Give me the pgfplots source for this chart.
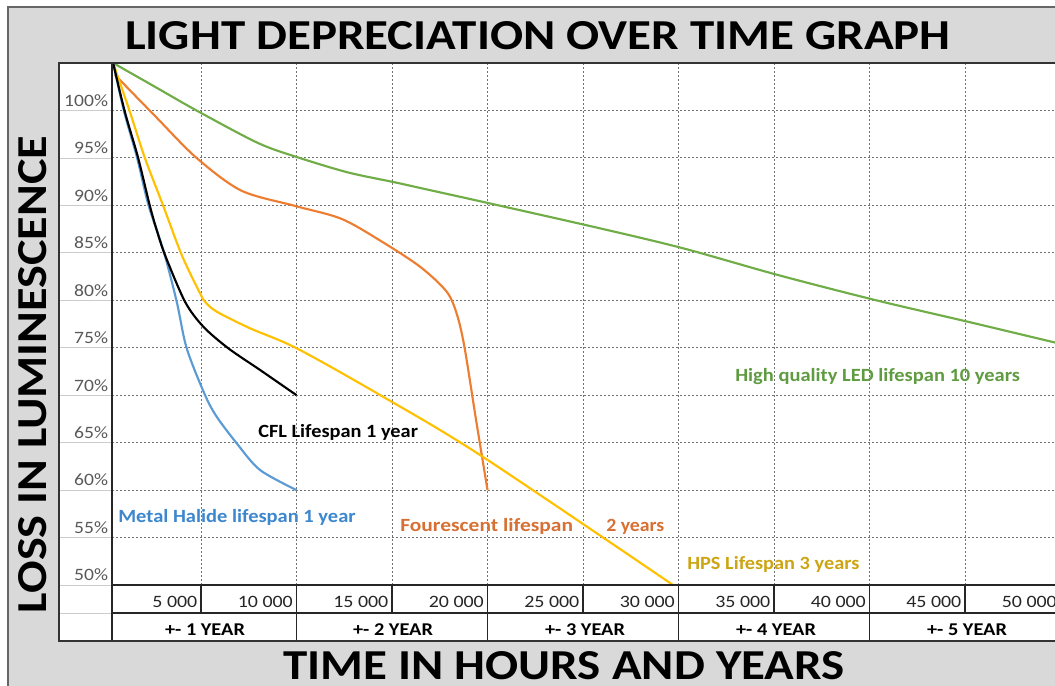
\documentclass[border=0pt]{standalone}
\usepackage{fontspec}
\setmainfont{Carlito}
\usepackage{pgfplots}
\pgfplotsset{compat=1.18}
\definecolor{framec}{RGB}{217,217,217}
\definecolor{cblue}{RGB}{91,155,213}
\definecolor{corange}{RGB}{237,125,49}
\definecolor{cyellow}{RGB}{255,192,0}
\definecolor{cgreen}{RGB}{112,173,71}
\definecolor{tblue}{RGB}{60,135,205}
\definecolor{torange}{RGB}{214,112,52}
\definecolor{tyellow}{RGB}{205,165,20}
\definecolor{tgreen}{RGB}{95,155,65}
\definecolor{gridc}{RGB}{115,115,115}
\newcommand\fs[1]{\fontsize{#1}{#1}\selectfont}
\begin{document}
\begin{tikzpicture}[x=0.75pt,y=0.75pt]
\path[use as bounding box] (0,0) rectangle (1055,685);
\clip (0,0) rectangle (1055,685);
\fill[white] (0,0) rectangle (1055,685);
\fill[framec] (8,-10) rectangle (1090,678);
\draw[line width=1pt,black!60] (8,-10) -- (8,678) -- (1090,678);
\fill[white] (59,44) rectangle (1090,622);
\foreach \v in {50,55,...,100} {\draw[black!20,line width=0.6pt] (59,{100+(\v-50)*9.4909}) -- (112,{100+(\v-50)*9.4909});}
\draw[black!20,line width=0.6pt] (59,72) -- (112,72);
\begin{scope}[shift={(84pt,75pt)}]
\begin{axis}[at={(0pt,0pt)},anchor=south west,scale only axis,
  width=718.54pt,height=391.5pt,
  xmin=340,xmax=50500,ymin=50,ymax=105,
  scaled x ticks=false,scaled y ticks=false,
  axis line style={draw=none},tick style={draw=none},
  xtick={5000,10000,15000,20000,25000,30000,35000,40000,45000,50000},
  xticklabels={5 000,10 000,15 000,20 000,25 000,30 000,35 000,40 000,45 000,50 000},
  ytick={50,55,60,65,70,75,80,85,90,95,100},
  yticklabels={50\%,55\%,60\%,65\%,70\%,75\%,80\%,85\%,90\%,95\%,100\%},
  grid=major,
  major grid style={gridc,line width=0.75pt,dash pattern=on 1.5pt off 1.5pt},
  yticklabel style={font=\fs{13}, text=black!65, anchor=east, yshift=7.5pt, xshift=1pt, xscale=1.13},
  xticklabel style={font=\fs{13}, text=black!85, anchor=east, yshift=-12.75pt, xshift=1.3pt, xscale=1.15},
]
\addplot[cgreen,line width=1.6pt,smooth] coordinates {(400,105.0)(2592,102.49)(4843,99.91)(7984,96.57)(10079,95.05)(12696,93.47)(15141,92.43)(16885,91.65)(20131,90.2)(25890,87.58)(30236,85.48)(35209,82.66)(40288,80.03)(45209,77.71)(49607,75.6)(50500,75.2)};
\addplot[corange,line width=1.6pt,smooth] coordinates {(482,103.77)(2592,99.42)(4738,95.05)(7094,91.57)(9906,89.95)(12330,88.6)(14372,86.3)(16466,83.54)(17864,80.90)(18400,78.5)(18800,75.0)(19400,67.4)(20000,60.0)};
\addplot[cyellow,line width=1.6pt,smooth] coordinates {(400,105.0)(1267,99.91)(2052,95.05)(3010,90.01)(3990,84.77)(4948,80.73)(5209,79.85)(5822,78.80)(7565,77.05)(10010,74.94)(14372,70.02)(19607,63.70)(29712,50.0)};
\addplot[cblue,line width=1.6pt,smooth] coordinates {(400,105.0)(969,99.91)(1649,95.05)(2251,90.01)(3026,85.30)(3728,79.85)(4251,74.94)(5209,70.02)(5822,67.73)(6869,64.93)(8089,62.12)(10000,60.0)};
\addplot[black,line width=1.6pt,smooth] coordinates {(400,105.0)(1005,99.91)(1702,95.05)(2314,90.01)(2681,87.40)(3115,84.77)(4162,79.85)(5120,77.22)(6429,74.94)(8089,72.66)(10000,70.0)};
\end{axis}
\end{scope}
% table and frame lines
\draw[line width=1.5pt,black!85] (112,100) -- (1090,100);
\draw[line width=1.2pt,black!85] (112,72) -- (1090,72);
\foreach \x in {201,296.5,392,487.5,583,678.5,774,869.5,965,1060.5} {\draw[line width=1.2pt,black!85] (\x,72) -- (\x,100);}
\foreach \x in {296.5,487.5,678.5,869.5,1060.5} {\draw[line width=1.2pt,black!85] (\x,44) -- (\x,72);}
\draw[line width=1.5pt,black!85] (112,44) -- (112,622);
\draw[line width=1.5pt,black!80] (1090,622) -- (59,622) -- (59,44) -- (1090,44);
\foreach \x/\t in {205/1,393/2,585/3,776/4,967/5} {\node[font=\fs{13.5}\bfseries,xscale=1.13] at (\x,55) {+- \t\ YEAR};}
% titles
\node[font=\fs{32}\bfseries,xscale=1.148] at (538,649) {LIGHT DEPRECIATION OVER TIME GRAPH};
\node[font=\fs{32}\bfseries,xscale=1.148] at (564,19.5) {TIME IN HOURS AND YEARS};
\node[font=\fs{32}\bfseries,rotate=90,xscale=1.13] at (33,310.5) {LOSS IN LUMINESCENCE};
% series labels
\node[font=\fs{14}\bfseries,text=black,anchor=base west,inner sep=0pt,xscale=1.09] at (258,247) {CFL Lifespan 1 year};
\node[font=\fs{14}\bfseries,text=tblue,anchor=base west,inner sep=0pt,xscale=1.097] at (118,162) {Metal Halide lifespan 1 year};
\node[font=\fs{14}\bfseries,text=torange,anchor=base west,inner sep=0pt,xscale=1.15] at (400,153) {Fourescent lifespan};
\node[font=\fs{14}\bfseries,text=torange,anchor=base west,inner sep=0pt,xscale=1.06] at (606,153) {2 years};
\node[font=\fs{14}\bfseries,text=tyellow,anchor=base west,inner sep=0pt,xscale=1.09] at (687,115.5) {HPS Lifespan 3 years};
\node[font=\fs{14}\bfseries,text=tgreen,anchor=base west,inner sep=0pt,xscale=1.096] at (735,303) {High quality LED lifespan 10 years};
\end{tikzpicture}
\end{document}
